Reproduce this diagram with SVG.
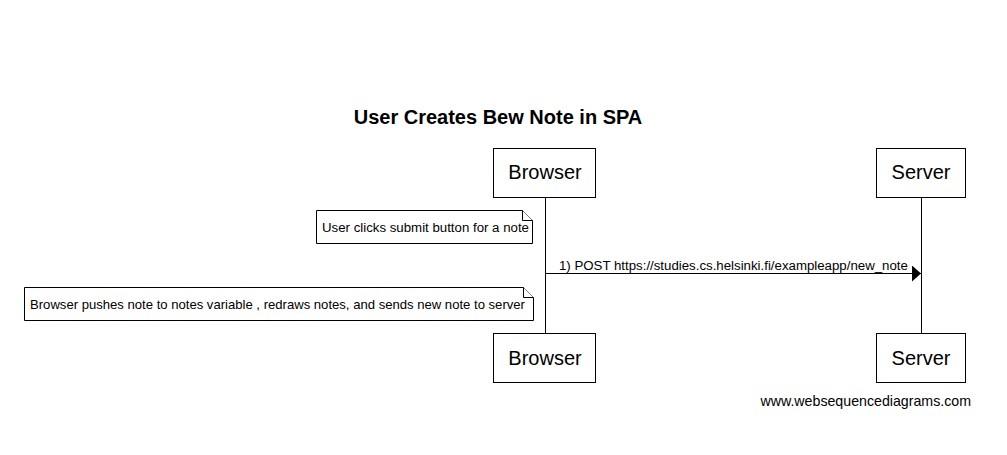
<svg xmlns="http://www.w3.org/2000/svg" width="1007" height="455" viewBox="0 0 1007 455">
<style>
.box{fill:#fff;stroke:#000;stroke-width:1}
.life{stroke:#000;stroke-width:1}
.pt{font-family:"Liberation Sans",Arial,sans-serif;font-size:20px;text-anchor:middle}
.t{font-family:"Liberation Sans",Arial,sans-serif;font-size:13.25px}
</style>
<defs>
<marker id="ah" markerWidth="10" markerHeight="16" refX="9" refY="8" orient="auto" markerUnits="userSpaceOnUse">
<path d="M0,0 L9,8 L0,16 Z" fill="#000"/>
</marker>
</defs>
<rect width="1007" height="455" fill="#fff"/>
<text x="498" y="124" font-family="Liberation Sans,Arial,sans-serif" font-size="20" font-weight="bold" text-anchor="middle">User Creates Bew Note in SPA</text>
<g id="lifelines">
<line class="life" x1="545.5" y1="197" x2="545.5" y2="333"/>
<line class="life" x1="921.5" y1="197" x2="921.5" y2="333"/>
</g>
<g id="browser-top"><rect class="box" x="493.5" y="148.5" width="102" height="49"/><text class="pt" x="545" y="179">Browser</text></g>
<g id="server-top"><rect class="box" x="876.5" y="148.5" width="89" height="49"/><text class="pt" x="921" y="179">Server</text></g>
<g id="browser-bottom"><rect class="box" x="493.5" y="333.5" width="102" height="49"/><text class="pt" x="545" y="365">Browser</text></g>
<g id="server-bottom"><rect class="box" x="876.5" y="333.5" width="89" height="49"/><text class="pt" x="921" y="365">Server</text></g>
<g id="note1">
<path class="box" d="M316.5,210.5 H522.5 L532.5,220.5 V243.5 H316.5 Z"/>
<path class="box" fill="none" d="M522.5,210.5 V220.5 H532.5"/>
<text class="t" x="322" y="232">User clicks submit button for a note</text>
</g>
<g id="note2">
<path class="box" d="M24.5,287.5 H523.5 L533.5,297.5 V320.5 H24.5 Z"/>
<path class="box" fill="none" d="M523.5,287.5 V297.5 H533.5"/>
<text class="t" x="30" y="309" style="font-size:13.1px">Browser pushes note to notes variable , redraws notes, and sends new note to server</text>
</g>
<g id="connectors">
<line x1="545" y1="273.5" x2="921" y2="273.5" stroke="#000" stroke-width="1" marker-end="url(#ah)"/>
<text class="t" x="559" y="270">1) POST https://studies.cs.helsinki.fi/exampleapp/new_note</text>
</g>
<text x="971" y="406" font-family="Liberation Sans,Arial,sans-serif" font-size="14.2" text-anchor="end">www.websequencediagrams.com</text>
</svg>
